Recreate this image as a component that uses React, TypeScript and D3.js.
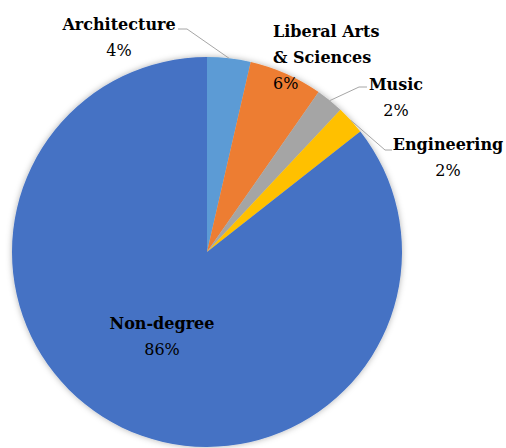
import * as d3 from "d3";
import {useEffect, useRef} from "react";

// カテゴリと値 (%)
const categories = ["Architecture", "Liberal Arts & Sciences", "Music", "Engineering", "Non-degree"];
const values = [3.6, 6.1, 2.3, 2.4, 85.6];
const colors = ["#5B9BD5", "#ED7D31", "#A5A5A5", "#FFC000", "#4472C4"];

// ラベルの配置 (x, 先頭行のベースライン, 揃え, 引き出し線の折れ点)
const labelLayout: {x: number; y: number; anchor: string; elbow?: [number, number][]}[] = [
  {x: 119, y: 30, anchor: "middle", elbow: [[178, 29], [187, 29]]},
  {x: 273, y: 37, anchor: "start"},
  {x: 396, y: 90, anchor: "middle", elbow: [[367, 87], [359, 87]]},
  {x: 448, y: 150, anchor: "middle", elbow: [[392, 150], [385, 150]]},
  {x: 162, y: 329, anchor: "middle"},
];

const App = () => {
  const width = 506;
  const height = 448;
  const cx = 207;
  const cy = 252;
  const radius = 195;
  const lineHeight = 26;

  const svgRef = useRef<SVGSVGElement>(null!);

  useEffect(() => {
    const svg = d3.select(svgRef.current);
    svg.selectAll("*").remove();

    const defs = svg.append("defs");
    defs.append("filter")
      .attr("id", "shadow")
      .attr("x", "-10%").attr("y", "-10%").attr("width", "120%").attr("height", "120%")
      .append("feDropShadow")
      .attr("dx", 0).attr("dy", 0)
      .attr("stdDeviation", 3)
      .attr("flood-color", "#000")
      .attr("flood-opacity", 0.3);

    const pie = d3.pie<number>().sort(null).value(d => d);
    const arcs = pie(values);
    const arc = d3.arc<d3.PieArcDatum<number>>().innerRadius(0).outerRadius(radius);

    const g = svg.append("g").attr("transform", `translate(${cx},${cy})`);
    g.append("g")
      .attr("filter", "url(#shadow)")
      .selectAll("path")
      .data(arcs)
      .enter()
      .append("path")
      .attr("d", arc)
      .attr("fill", (_, i) => colors[i]);

    // 引き出し線
    const line = d3.line();
    arcs.forEach((a, i) => {
      const lay = labelLayout[i];
      if (!lay.elbow) return;
      const mid = (a.startAngle + a.endAngle) / 2;
      const edge: [number, number] = [cx + radius * Math.sin(mid), cy - radius * Math.cos(mid)];
      svg.append("path")
        .attr("d", line([...lay.elbow, edge]))
        .attr("fill", "none")
        .attr("stroke", "#A6A6A6")
        .attr("stroke-width", 1);
    });

    // ラベル
    categories.forEach((name, i) => {
      const lay = labelLayout[i];
      const lines = name.split(/ (?=& )/);
      const text = svg.append("text")
        .attr("text-anchor", lay.anchor)
        .style("font-family", "'DejaVu Serif', 'Liberation Serif', serif")
        .style("font-size", "16px")
        .attr("fill", "#000");
      lines.forEach((l, k) => {
        text.append("tspan")
          .attr("x", lay.x)
          .attr("y", lay.y + k * lineHeight)
          .attr("font-weight", "bold")
          .text(l);
      });
      text.append("tspan")
        .attr("x", lay.x)
        .attr("y", lay.y + lines.length * lineHeight)
        .text(`${Math.round(values[i])}%`);
    });
  }, []);

  return (
    <svg width={width} height={height} ref={svgRef}
         style={{position: "absolute", left: 0, top: 0, background: "#fff"}}/>
  );
};

export default App;
